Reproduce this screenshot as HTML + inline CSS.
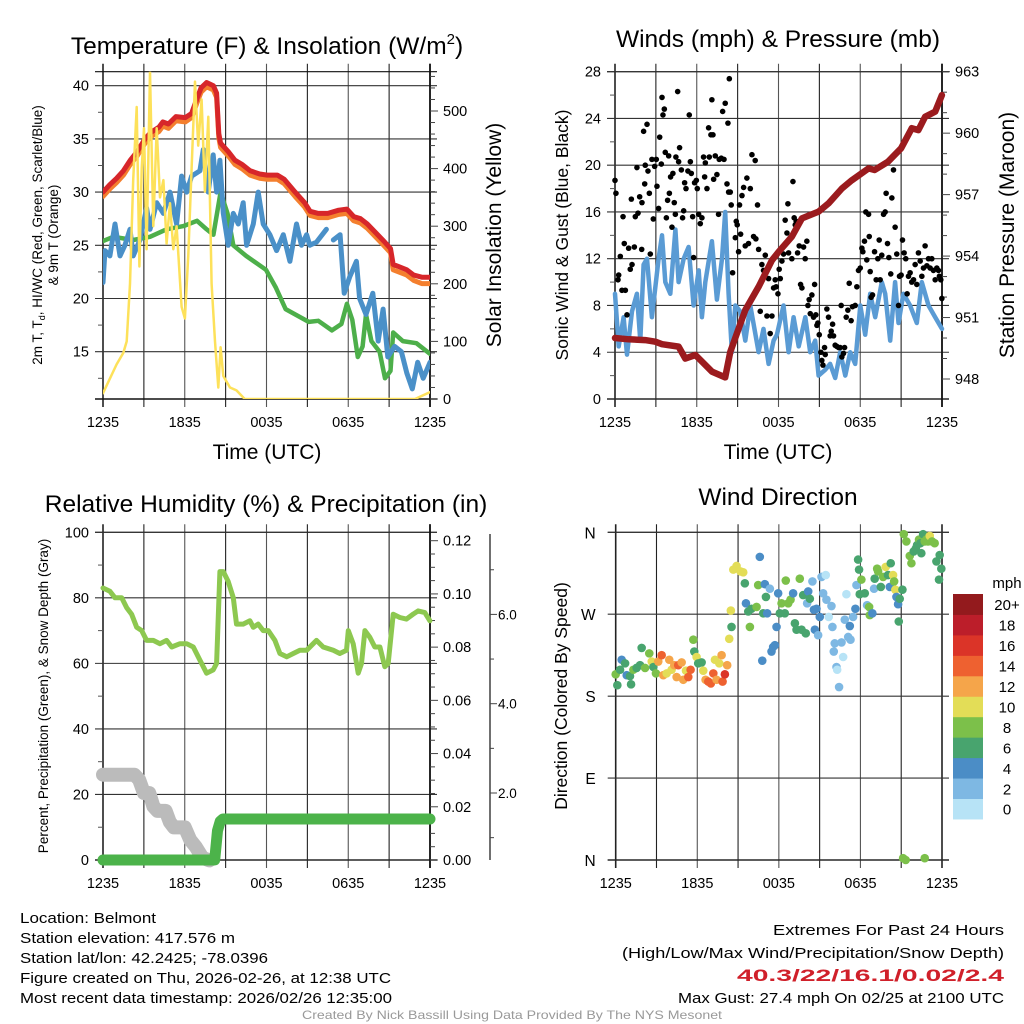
<!DOCTYPE html>
<html><head><meta charset="utf-8"><style>
html,body{margin:0;padding:0;background:#fff}
svg{display:block;font-family:"Liberation Sans",sans-serif}
</style></head><body>
<svg id="fig" width="1024" height="1024" viewBox="0 0 1024 1024" xmlns="http://www.w3.org/2000/svg">
<rect width="1024" height="1024" fill="#fff"/>
<g font-size="15" fill="#000">
<text x="20" y="923" textLength="136" lengthAdjust="spacingAndGlyphs">Location: Belmont</text>
<text x="20" y="943" textLength="215" lengthAdjust="spacingAndGlyphs">Station elevation: 417.576 m</text>
<text x="20" y="963" textLength="248" lengthAdjust="spacingAndGlyphs">Station lat/lon: 42.2425; -78.0396</text>
<text x="20" y="983" textLength="371" lengthAdjust="spacingAndGlyphs">Figure created on Thu, 2026-02-26, at 12:38 UTC</text>
<text x="20" y="1003" textLength="372" lengthAdjust="spacingAndGlyphs">Most recent data timestamp: 2026/02/26 12:35:00</text>
</g>
<g font-size="15" fill="#000">
<text x="773" y="935" textLength="231" lengthAdjust="spacingAndGlyphs">Extremes For Past 24 Hours</text>
<text x="622" y="958" textLength="382" lengthAdjust="spacingAndGlyphs">(High/Low/Max Wind/Precipitation/Snow Depth)</text>
<text x="737" y="981" font-size="17" textLength="267" lengthAdjust="spacingAndGlyphs" fill="#D0202A" font-weight="bold">40.3/22/16.1/0.02/2.4</text>
<text x="678" y="1003" textLength="326" lengthAdjust="spacingAndGlyphs">Max Gust: 27.4 mph On 02/25 at 2100 UTC</text>
</g>
<text x="512" y="1019" font-size="12" fill="#999" text-anchor="middle" textLength="420" lengthAdjust="spacingAndGlyphs">Created By Nick Bassill Using Data Provided By The NYS Mesonet</text>
</svg>
<script>
// ---------- DATA ----------
const timeTicks = [0, 6, 12, 18, 24];
const timeTickLabels = ['1235', '1835', '0035', '0635', '1235'];
// Panel 1 temperatures
const redT = [0,.5,1,1.5,2,2.5,3.08,3.5,4.1,4.4,4.8,5.35,6.04,6.5,6.9,7.2,7.6,8.1,8.34,8.5,8.63,9.2,9.68,10.2,10.8,11.5,12.05,12.8,13.3,14.1,14.8,15.2,15.8,16.5,17.3,17.9,18.4,18.9,19.4,20,20.6,21.1,21.3,21.7,22.3,22.8,23.4,24];
const redV = [30,30.7,31.3,32,33,33.8,35,35.6,36.1,36.6,36.4,37.1,37,37.4,38.8,39.8,40.3,40,39.3,35.5,34.6,33.8,33,32.6,32,31.7,31.6,31.6,31.2,30,29,28.2,28,28,28.3,28.4,27.7,27.5,27,26.2,25.4,24.7,23.2,23,22.7,22.2,22,22];
const orangeV = [29.6,30.3,30.9,31.6,32.6,33.4,34.6,35.2,35.7,36.2,36,36.7,36.6,37,38.4,39.4,39.9,39.6,38.9,35.1,34.2,33.4,32.6,32.2,31.6,31.3,31.2,31.2,30.8,29.6,28.6,27.8,27.6,27.6,27.9,28,27.3,27.1,26.6,25.8,25,24.3,22.7,22.5,22.2,21.7,21.4,21.4];
const greenT = [0,.76,2.22,3.45,4.67,5.9,6.9,7.6,8.1,8.63,9.14,9.56,10.5,11.96,12.7,13.4,14.4,15.1,15.8,16.8,17.5,17.9,18.3,18.7,19.05,19.3,19.7,20.3,20.7,21.1,21.3,22,23,24];
const greenV = [25.4,25.8,25.5,25.8,26.5,26.8,27.3,26.5,26,30,28,25,24,22.7,21,19,18.3,17.8,17.9,17,17.6,19.5,18,14.5,15.5,18.5,16,15,12.5,13.2,16.8,16,15.8,14.8];
const blueT = [0,.15,.51,.88,1.25,1.61,1.98,2.22,2.71,3.2,3.45,3.94,4.43,4.92,5.4,5.77,6.14,6.5,7.11,7.36,7.72,8.09,8.34,8.58,8.83,9.19,9.56,9.93,10.29,10.54,11.03,11.39,11.76,12.25,12.74,13.23,13.72,14.2,14.57,14.94,15.18,15.67,16.4,16.5,16.9,17.4,17.7,18.1,18.6,18.83,19.3,19.8,20.2,20.56,20.9,21.4,21.9,22.3,22.7,23.1,23.5,24];
const blueV = [21.5,24.5,24,27,24,25,26.5,24,25.5,28.5,26.5,29,28,30,27,31.5,30,31.5,32,34,30,33.5,30,33,28,25,28,27,29,25,27,30,27,26,24.5,26,23.5,27,25,26,25,25.3,26.5,null,25.5,26,20.5,22,23.5,20,18.5,20.5,16,19,14.5,15.5,15,13,11.5,14,12.5,14];
const solarT = [0,1,1.49,1.74,1.98,2.22,2.47,2.67,2.84,3.01,3.2,3.45,3.69,3.94,4.18,4.43,4.67,4.92,5.16,5.4,5.77,6.01,6.26,6.5,6.75,6.99,7.24,7.48,7.73,7.97,8.22,8.46,8.63,8.83,9.32,9.8,10.4,22.9,24];
const solarV = [10,60,80,100,200,380,507,230,400,470,260,568,300,470,350,380,270,340,260,300,160,140,250,400,551,440,520,360,490,200,100,20,90,40,20,15,0,0,12];
// Panel 2 winds & pressure
const windT = [0,.27,.63,.88,1.25,1.61,1.86,2.1,2.35,2.71,3.2,3.45,3.69,4.06,4.43,4.67,5.04,5.4,5.77,6.14,6.38,6.63,7.11,7.48,7.85,8.09,8.34,8.58,8.83,9.19,9.56,9.93,10.54,10.9,11.27,11.64,11.88,12.37,12.74,13.11,13.48,13.97,14.33,14.69,14.94,15.43,15.79,16.16,16.53,16.9,17.26,17.63,18,18.36,18.73,19.1,19.58,19.83,20.2,20.56,20.81,21.17,21.66,22.15,22.52,23.01,23.5,24];
const windV = [9,4.5,7,3.8,7.5,9,5,11.5,12,7,12,14,10,9,14.5,10,12,13,8,11,7,10,13.5,8.5,12,16,9,4,8,7.5,5,8,4,6,3,5,5.5,8,4,7,4.5,7,4,5,2,2.5,3,1.8,4,2,4,3,8,5.5,9,7,10,9,5,10,6.5,9,8,6.5,10,8,7,6];
const gustT = [0,.07,.22,.27,.39,.51,.59,.68,.76,.88,1,1.12,1.2,1.25,1.42,1.49,1.61,1.69,1.81,1.96,1.98,2.1,2.18,2.22,2.35,2.42,2.52,2.59,2.71,2.81,2.91,3.03,3.08,3.2,3.28,3.4,3.45,3.52,3.62,3.69,3.77,3.86,3.94,3.99,4.08,4.18,4.25,4.35,4.43,4.47,4.6,4.67,4.74,4.87,4.96,5.04,5.11,5.21,5.35,5.45,5.53,5.6,5.7,5.77,5.84,5.97,6.04,6.14,6.26,6.38,6.5,6.58,6.63,6.75,6.87,6.92,7.04,7.11,7.19,7.24,7.36,7.48,7.6,7.65,7.8,7.9,8,8.09,8.22,8.29,8.34,8.39,8.46,8.53,8.63,8.83,8.9,8.97,9.07,9.14,9.22,9.32,9.44,9.56,9.68,9.8,9.93,10.05,10.17,10.29,10.34,10.46,10.54,10.66,10.78,10.9,11.03,11.15,11.27,11.39,11.52,11.64,11.76,11.83,11.96,12.05,12.13,12.25,12.37,12.49,12.62,12.69,12.74,12.86,12.98,13.06,13.15,13.23,13.3,13.4,13.52,13.62,13.72,13.84,13.96,14.08,14.16,14.25,14.33,14.45,14.57,14.65,14.74,14.82,14.89,14.99,15.11,15.18,15.26,15.38,15.43,15.55,15.67,15.79,15.87,15.97,16.04,16.16,16.28,16.41,16.53,16.6,16.65,16.77,16.85,16.97,17.09,17.19,17.33,17.43,17.63,17.75,17.87,18,18.12,18.19,18.31,18.41,18.48,18.61,18.66,18.73,18.8,18.9,19.05,19.17,19.29,19.39,19.46,19.58,19.71,19.83,19.9,20,20.1,20.24,20.32,20.44,20.56,20.68,20.81,20.88,21,21.1,21.22,21.34,21.44,21.54,21.66,21.78,21.91,22.03,22.15,22.27,22.4,22.52,22.64,22.76,22.89,23.01,23.13,23.25,23.37,23.5,23.62,23.74,23.81,23.91,23.99];
const gustV = [18.7,17.6,10.2,10.6,12.2,9.3,15.6,13.3,9.3,7.2,12.9,11.1,17.1,11.5,13,15.6,19.8,15.9,17.3,12.8,16.8,22.9,18.4,20,23.5,19.5,17.6,12.4,20.5,15.4,19.9,20.5,18.2,16.3,22.4,20.1,25.8,24.3,24.8,21.1,15.5,17,20.8,17.6,19,14.7,19.3,16.8,15.8,20.7,26.3,20.3,21.5,19.6,15.5,16.1,18.5,18,19.5,24.3,20.3,19.3,15.6,12.1,18.5,18.7,18,15.8,15,15.5,20.7,19,20.2,18,23.2,20.7,22.6,25.6,22.6,18.8,20.8,19.2,15.8,20.5,20.6,24.6,20.5,25.3,18.4,23.6,17.7,27.4,17.7,16.6,10.8,13.8,15.2,14.9,12.6,16.6,14.1,17.4,18.1,13.1,18.9,13.3,18,20.9,13.9,20.4,13.7,16.6,12.8,7.5,11.5,11,12.3,7.1,10.3,5.6,7.1,9.5,10.2,9.6,9,11.1,10.3,11.8,12.4,15.3,14.2,16.7,12.5,13.8,12,18.6,15.5,14.9,15.2,12.5,13.1,9.8,9.5,13,12,13.5,8,8.5,7.3,8.9,7,9.8,7.2,6.3,6.5,5.5,4,3.3,2.9,4.4,3.8,7.7,7,5.4,5.8,6.4,5.4,4.6,4.5,4.4,4.4,8,3.6,3.9,4.4,7,7.6,9.9,6.7,7.9,8,9.6,11,11.2,12.9,12.6,13.5,16,11.9,15.8,13.9,10.9,8.7,8.9,12.6,10.2,12,13.6,10.2,12.3,15.8,16,17.6,13.3,12.1,10.7,17.2,19.6,14.7,12.4,8,10.5,10.6,13.6,12.5,12,9,10.5,10.8,10,10.2,11.5,9.8,12.5,11.8,10.5,11.2,13.1,11.4,12,11.2,12,11,10.2,11.2,11,10.5,10.2,8.6];
const presT = [0,1,2.22,2.96,3.45,4.67,5.16,5.9,7.11,8.09,8.46,9.56,10.54,11.52,12,12.98,13.72,14.94,15.67,16.65,17.38,18.61,19.05,20.03,21,21.78,22.27,22.76,23.5,23.99];
const presV = [950,949.94,949.9,949.82,949.7,949.58,949,949.17,948.36,948.08,949.33,951.37,952.5,953.8,954.2,954.95,955.84,956.17,956.57,957.3,957.7,958.28,958.2,958.6,959.26,960.24,960.15,960.8,961.05,961.86];
// Panel 3 humidity, precip, snow
const rhT = [0,.51,.88,1.37,1.74,2.1,2.47,2.84,3.2,3.69,4.18,4.67,5.04,5.65,6.14,6.63,7.11,7.6,8.09,8.34,8.58,8.83,9.19,9.56,9.8,10.29,10.78,11.03,11.39,11.76,12.13,12.62,12.98,13.48,13.97,14.45,14.94,15.43,15.67,16.16,16.9,17.38,17.87,18,18.36,18.73,18.97,19.22,19.58,19.95,20.32,20.68,20.93,21.3,21.78,22.27,22.76,23.13,23.62,23.99];
const rhV = [83,82,80,80,77,75,71,70,67,67,66,67,65,66,66,65,61,57,58,60,88,88,85,80,72,72,73,71,72,70,70,67,63,62,63,64,64,66,67,65,64,63,64,70,66,57,60,70,68,65,65,59,60,75,74,73.5,75,76,75.5,73];
const snowT = [0,2.3,2.65,3,3.4,3.7,4,4.6,4.9,5.2,6,6.4,6.8,7.3,7.8];
const snowV = [2.41,2.41,2.3,2,2,1.7,1.6,1.6,1.35,1.23,1.23,0.95,0.8,0.55,0.49];
const precipT = [0,8.2,8.4,8.6,8.8,24];
const precipV = [0,0,0.011,0.0145,0.0154,0.0154];
// Panel 4 wind direction
const dirT = [0,.12,.32,.44,.69,.81,1.05,1.13,1.3,1.54,1.79,1.91,2.16,2.47,2.65,2.77,2.96,3.13,3.38,3.5,3.75,3.94,4.11,4.31,4.48,4.6,4.85,4.97,5.17,5.34,5.51,5.71,5.78,5.95,6.07,6.32,6.44,6.61,6.81,7,7.18,7.3,7.42,7.62,7.79,7.86,8.03,8.2,8.35,8.47,8.52,8.65,8.89,9.18,9.38,9.5,9.58,9.75,9.87,9.99,10.36,10.48,10.6,10.78,10.85,10.97,11.05,11.14,11.34,11.46,11.58,11.71,11.83,11.95,12.07,12.2,12.44,12.51,12.69,12.86,13.05,13.18,13.3,13.54,13.67,13.79,13.98,14.08,14.16,14.28,14.47,14.58,14.65,14.77,14.89,15.01,15.14,15.26,15.45,15.5,15.67,15.87,15.94,16.04,16.11,16.24,16.29,16.43,16.61,16.73,16.85,16.97,17.1,17.22,17.27,17.46,17.63,17.71,17.83,17.9,17.95,18.07,18.32,18.49,18.64,18.69,18.88,19,19.05,19.23,19.3,19.5,19.67,19.86,20.03,20.16,20.23,20.4,20.48,20.57,20.65,20.77,20.82,20.89,21.09,21.19,21.38,21.63,21.75,21.92,22.07,22.17,22.31,22.41,22.48,22.61,22.73,22.85,22.97,23.1,23.27,23.46,23.59,23.78,23.83,23.95,21.14,21.33,22.73];
const dirV = [204,192,209,220,216,203,202,193,209,211,214,233,211,227,218,212,205,218,225,203,205,220,209,214,201,214,217,198,208,201,209,242,229,223,216,217,208,198,196,194,205,220,198,216,225,196,204,214,243,274,256,319,323,317,316,304,282,273,256,276,278,302,333,219,271,303,289,271,298,229,234,236,256,293,271,282,271,307,282,286,293,260,253,309,253,291,249,282,295,287,306,275,253,276,247,267,311,293,313,286,267,279,256,229,238,212,209,190,239,223,264,292,245,257,242,267,276,302,330,319,292,308,293,280,278,269,271,298,309,320,317,300,311,322,313,300,326,313,306,297,289,281,262,287,297,358,350,334,326,339,342,346,352,348,337,358,350,352,350,356,350,348,328,308,335,320,2,0,2];
const dirSpd = [8,6,6,4,6,4,6,6,8,6,6,6,8,8,10,6,8,12,14,12,10,12,10,13,12,14,12,12,10,14,14,8,6,10,6,6,10,12,14,15,14,10,12,10,13,14,16,12,10,10,6,10,10,10,10,6,4,6,8,6,8,8,4,4,6,4,6,4,2,4,4,4,4,4,6,8,6,8,8,8,4,6,6,8,6,6,6,2,4,6,2,4,4,4,2,4,2,2,0,2,0,2,2,2,2,2,0,2,2,0,2,0,2,4,2,2,4,2,6,6,6,8,6,2,8,8,4,2,6,8,8,6,8,10,6,4,6,10,8,10,4,4,6,6,6,8,8,8,8,6,6,6,8,6,6,6,8,8,8,10,8,8,6,6,6,6,8,8,8];
const speedLevels = ['0','2','4','6','8','10','12','14','16','18','20+'];
const speedColors = ['#B7E3F6','#7EB8E3','#4B8DC6','#48A46E','#7CC04A','#E3DD57','#F5A54A','#EE6130','#DB3428','#BC1E2A','#931A1D'];

// ---------- HELPERS ----------
const NS = 'http://www.w3.org/2000/svg';
const svg = document.getElementById('fig');
function mk(tag, attrs, name, parent) {
  const el = document.createElementNS(NS, tag);
  for (const k in attrs) el.setAttribute(k, attrs[k]);
  
  
  (parent || svg).appendChild(el);
  return el;
}
function txt(x, y, s, size, name, anchor, extra) {
  const t = mk('text', Object.assign({x: x, y: y, 'font-size': size, 'text-anchor': anchor || 'middle', fill: '#000'}, extra || {}), name);
  t.textContent = s;
  return t;
}
function rotTxt(x, y, s, size, name, ang) {
  const t = mk('text', {x: 0, y: 0, 'font-size': size, 'text-anchor': 'middle', transform: 'translate(' + x + ',' + y + ') rotate(' + ang + ')'}, name);
  t.textContent = s;
  return t;
}
function pathFrom(ts, vs, sx, sy) {
  let d = '', pen = false;
  for (let i = 0; i < ts.length; i++) {
    if (vs[i] === null) { pen = false; continue; }
    d += (pen ? 'L' : 'M') + sx(ts[i]).toFixed(1) + ',' + sy(vs[i]).toFixed(1);
    pen = true;
  }
  return d;
}
function linScale(d0, d1, r0, r1) { return v => r0 + (v - d0) / (d1 - d0) * (r1 - r0); }

function frame(P, id) {
  const g = mk('g', {}, id + '-grid');
  for (let h = 0; h <= 24; h += 3) {
    const x = P.sx(h);
    mk('line', {x1: x, x2: x, y1: P.t - 8, y2: P.b + 8, stroke: (h % 6 === 0 && h > 0 && h < 24) ? '#555' : '#222', 'stroke-width': (h === 0 || h === 24) ? 1.6 : 1.1}, id + '-vgrid', g);
  }
  mk('line', {x1: P.l - 8, x2: P.r + 7, y1: P.t, y2: P.t, stroke: '#111', 'stroke-width': 1.2}, id + '-top-border', g);
  mk('line', {x1: P.l - 8, x2: P.r + 7, y1: P.b, y2: P.b, stroke: '#111', 'stroke-width': 1.6}, id + '-bottom-border', g);
  timeTicks.forEach((h, i) => {
    txt(P.sx(h), P.b + 28, timeTickLabels[i], 14.5, id + '-x-tick-label');
  });
}

// ---------- PANEL 1 ----------
(function () {
  const P = {l: 103, r: 430, t: 71.7, b: 399};
  P.sx = linScale(0, 24, P.l, P.r);
  const sy = linScale(40, 15, 85.7, 351.7);
  const sy2 = linScale(0, 500, 399, 111);
  frame(P, 'temp');
  [15, 20, 25, 30, 35, 40].forEach(v => {
    mk('line', {x1: P.l - 8, x2: P.r + 7, y1: sy(v), y2: sy(v), stroke: '#333', 'stroke-width': 1.1}, 'temp-hgrid');
    txt(P.l - 14, sy(v) + 5, String(v), 14.5, 'temp-y-tick-label', 'end');
  });
  for (let v = 12.5; v <= 40; v += 5) mk('line', {x1: P.l - 5, x2: P.l, y1: sy(v), y2: sy(v), stroke: '#555'}, 'temp-minor-tick');
  mk('line', {x1: P.r, x2: P.r, y1: P.t - 8, y2: P.b + 8, stroke: '#111', 'stroke-width': 1.6}, 'solar-axis-line');
  for (let v = 0; v <= 560; v += 20) {
    const major = v % 100 === 0;
    mk('line', {x1: P.r, x2: P.r + (major ? 8 : 5), y1: sy2(v), y2: sy2(v), stroke: '#444'}, 'solar-tick');
    if (major && v <= 500) txt(P.r + 13, sy2(v) + 5, String(v), 14.5, 'solar-tick-label', 'start');
  }
  const clip = mk('clipPath', {id: 'c1'}, 'temp-clip');
  mk('rect', {x: P.l, y: P.t, width: P.r - P.l, height: P.b - P.t}, 'temp-clip-rect', clip);
  const g = mk('g', {'clip-path': 'url(#c1)', fill: 'none', 'stroke-linejoin': 'round', 'stroke-linecap': 'round'}, 'temp-series');
  mk('path', {d: pathFrom(greenT, greenV, P.sx, sy), stroke: '#4DAF4A', 'stroke-width': 4.5}, 'dewpoint-line', g);
  mk('path', {d: pathFrom(blueT, blueV, P.sx, sy), stroke: '#4A90C8', 'stroke-width': 5}, 'wind-chill-line', g);
  mk('path', {d: pathFrom(redT, orangeV, P.sx, sy), stroke: '#F47F2E', 'stroke-width': 5}, 'temp-9m-line', g);
  mk('path', {d: pathFrom(redT, redV, P.sx, sy), stroke: '#D7262A', 'stroke-width': 5}, 'temp-2m-line', g);
  mk('path', {d: pathFrom(solarT, solarV, P.sx, sy2), stroke: '#FDE15A', 'stroke-width': 2.5}, 'solar-line', g);
  const t = txt(267, 54, 'Temperature (F) & Insolation (W/m', 24.5, 'temp-title');
  const sup = document.createElementNS(NS, 'tspan');
  sup.setAttribute('dy', '-10');
  sup.setAttribute('font-size', '15');
  sup.textContent = '2';
  t.appendChild(sup);
  const cl = document.createElementNS(NS, 'tspan');
  cl.setAttribute('dy', '10');
  cl.textContent = ')';
  t.appendChild(cl);
  txt(267, 459, 'Time (UTC)', 21, 'temp-x-axis-title');
  const yl = rotTxt(42, 235, '', 13.5, 'temp-y-axis-title', -90);
  yl.innerHTML = '2m T, T<tspan dy="3" font-size="9">d</tspan><tspan dy="-3">, HI/WC (Red, Green, Scarlet/Blue)</tspan>';
  rotTxt(58, 235, '& 9m T (Orange)', 13.5, 'temp-y-axis-title-2', -90);
  rotTxt(501, 235, 'Solar Insolation (Yellow)', 21, 'solar-axis-title', -90);
})();

// ---------- PANEL 2 ----------
(function () {
  const P = {l: 615, r: 942, t: 71.7, b: 399};
  P.sx = linScale(0, 24, P.l, P.r);
  const sy = linScale(0, 28, 399, 71.7);
  const sy2 = linScale(948, 963, 379, 71.7);
  frame(P, 'wind');
  [0, 4, 8, 12, 16, 20, 24, 28].forEach(v => {
    mk('line', {x1: P.l - 8, x2: P.r + 7, y1: sy(v), y2: sy(v), stroke: '#333', 'stroke-width': 1.1}, 'wind-hgrid');
    txt(P.l - 14, sy(v) + 5, String(v), 14.5, 'wind-y-tick-label', 'end');
  });
  for (let v = 2; v < 28; v += 4) mk('line', {x1: P.l - 5, x2: P.l, y1: sy(v), y2: sy(v), stroke: '#555'}, 'wind-minor-tick');
  mk('line', {x1: P.r, x2: P.r, y1: P.t - 8, y2: P.b + 8, stroke: '#111', 'stroke-width': 1.6}, 'pressure-axis-line');
  for (let v = 948; v <= 963; v += 1) {
    const major = (v - 948) % 3 === 0;
    mk('line', {x1: P.r, x2: P.r + (major ? 8 : 5), y1: sy2(v), y2: sy2(v), stroke: '#444'}, 'pressure-tick');
    if (major) txt(P.r + 13, sy2(v) + 5, String(v), 14.5, 'pressure-tick-label', 'start');
  }
  const clip = mk('clipPath', {id: 'c2'}, 'wind-clip');
  mk('rect', {x: P.l - 4, y: P.t, width: P.r - P.l + 8, height: P.b - P.t}, 'wind-clip-rect', clip);
  const g = mk('g', {'clip-path': 'url(#c2)', 'stroke-linejoin': 'round', 'stroke-linecap': 'round'}, 'wind-series');
  mk('path', {d: pathFrom(windT, windV, P.sx, sy), stroke: '#5A9BD4', 'stroke-width': 4.5, fill: 'none'}, 'sonic-wind-line', g);
  for (let i = 0; i < gustT.length; i++) {
    mk('circle', {cx: P.sx(gustT[i]), cy: sy(gustV[i]), r: 2.8, fill: '#000'}, 'gust-point', g);
  }
  mk('path', {d: pathFrom(presT, presV, P.sx, sy2), stroke: '#9B1B1E', 'stroke-width': 6.5, fill: 'none'}, 'pressure-line', g);
  txt(778, 47, 'Winds (mph) & Pressure (mb)', 24.5, 'wind-title');
  txt(778, 459, 'Time (UTC)', 21, 'wind-x-axis-title');
  rotTxt(568, 235, 'Sonic Wind & Gust (Blue, Black)', 17.5, 'wind-y-axis-title', -90);
  rotTxt(1014, 235, 'Station Pressure (Maroon)', 21, 'pressure-axis-title', -90);
})();

// ---------- PANEL 3 ----------
(function () {
  const P = {l: 103, r: 430, t: 532.3, b: 860};
  P.sx = linScale(0, 24, P.l, P.r);
  const sy = linScale(0, 100, 860, 532.3);
  const sy2 = linScale(0, 0.12, 860, 540.7);
  const sy3 = linScale(0, 2, 882.3, 793);
  frame(P, 'rh');
  [0, 20, 40, 60, 80, 100].forEach(v => {
    mk('line', {x1: P.l - 8, x2: P.r + 7, y1: sy(v), y2: sy(v), stroke: '#333', 'stroke-width': 1.1}, 'rh-hgrid');
    txt(P.l - 14, sy(v) + 5, String(v), 14.5, 'rh-y-tick-label', 'end');
  });
  for (let v = 10; v < 100; v += 20) mk('line', {x1: P.l - 5, x2: P.l, y1: sy(v), y2: sy(v), stroke: '#555'}, 'rh-minor-tick');
  mk('line', {x1: P.r, x2: P.r, y1: P.t - 8, y2: P.b + 8, stroke: '#111', 'stroke-width': 1.6}, 'precip-axis-line');
  for (let i = 0; i <= 24; i++) {
    const v = i * 0.005;
    const major = i % 4 === 0;
    mk('line', {x1: P.r, x2: P.r + (major ? 8 : 5), y1: sy2(v), y2: sy2(v), stroke: '#444'}, 'precip-tick');
    if (major) txt(P.r + 13, sy2(v) + 5, v.toFixed(2), 14.5, 'precip-tick-label', 'start');
  }
  mk('line', {x1: 490, x2: 490, y1: 534, y2: 860, stroke: '#333', 'stroke-width': 1.4}, 'snow-axis-line');
  for (let v = 1; v <= 7; v++) {
    const major = v % 2 === 0;
    mk('line', {x1: 490, x2: 490 + (major ? 7 : 4), y1: sy3(v), y2: sy3(v), stroke: '#444'}, 'snow-tick');
    if (major) txt(498, sy3(v) + 5, v.toFixed(1), 13.5, 'snow-tick-label', 'start');
  }
  const clip = mk('clipPath', {id: 'c3'}, 'rh-clip');
  mk('rect', {x: P.l - 10, y: P.t, width: P.r - P.l + 20, height: P.b - P.t + 10}, 'rh-clip-rect', clip);
  const g = mk('g', {'clip-path': 'url(#c3)', fill: 'none', 'stroke-linejoin': 'round', 'stroke-linecap': 'round'}, 'rh-series');
  mk('path', {d: pathFrom(snowT, snowV, P.sx, sy3), stroke: '#BBBBBB', 'stroke-width': 14}, 'snow-depth-line', g);
  mk('path', {d: pathFrom(precipT, precipV, P.sx, sy2), stroke: '#4CB34A', 'stroke-width': 11}, 'precip-line', g);
  mk('path', {d: pathFrom(rhT, rhV, P.sx, sy), stroke: '#8DC850', 'stroke-width': 5}, 'rh-line', g);
  txt(266, 512, 'Relative Humidity (%) & Precipitation (in)', 24.5, 'rh-title');
  rotTxt(48, 696, 'Percent, Precipitation (Green), & Snow Depth (Gray)', 13.5, 'rh-y-axis-title', -90);
})();

// ---------- PANEL 4 ----------
(function () {
  const P = {l: 615.7, r: 942, t: 532.3, b: 860};
  P.sx = linScale(0, 24, P.l, P.r);
  const sy = linScale(0, 360, 860, 532.3);
  frame(P, 'dir');
  const dirLabels = ['N', 'E', 'S', 'W', 'N'];
  [0, 90, 180, 270, 360].forEach((v, i) => {
    mk('line', {x1: P.l - 8, x2: P.r + 7, y1: sy(v), y2: sy(v), stroke: '#333', 'stroke-width': 1.1}, 'dir-hgrid');
    txt(P.l - 20, sy(v) + 6, dirLabels[i], 15.5, 'dir-y-tick-label', 'end');
  });
  const g = mk('g', {}, 'dir-points');
  for (let i = 0; i < dirT.length; i++) {
    const idx = Math.min(10, Math.floor(dirSpd[i] / 2));
    mk('circle', {cx: P.sx(dirT[i]), cy: sy(dirV[i]), r: 4.3, fill: speedColors[idx]}, 'direction-point', g);
  }
  txt(778, 505, 'Wind Direction', 24.5, 'dir-title');
  rotTxt(567, 696, 'Direction (Colored By Speed)', 17.5, 'dir-y-axis-title', -90);
  const cb = mk('g', {}, 'speed-colorbar');
  const top = 594, h = 20.45;
  for (let i = 0; i < speedColors.length; i++) {
    const y = top + (speedColors.length - 1 - i) * h;
    mk('rect', {x: 953, y: y, width: 30, height: h + 0.5, fill: speedColors[i]}, 'colorbar-swatch', cb);
    txt(1007, y + h / 2 + 6, speedLevels[i], 15, 'colorbar-label');
  }
  txt(1007, 588, 'mph', 15, 'colorbar-title');
})();
</script>
</body></html>
